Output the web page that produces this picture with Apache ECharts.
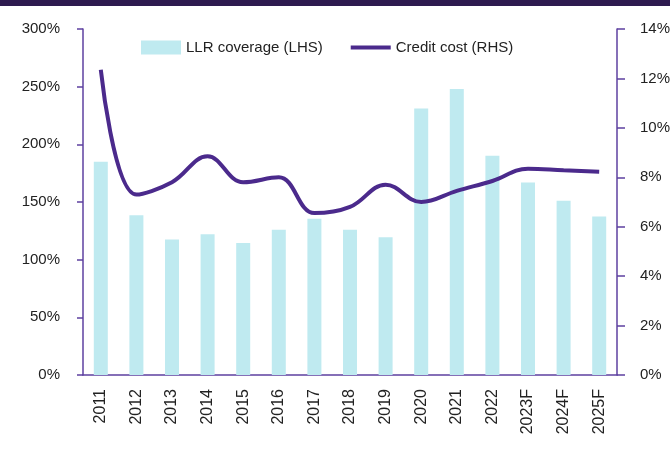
<!DOCTYPE html>
<html><head><meta charset="utf-8">
<script src="https://cdn.jsdelivr.net/npm/echarts@6/dist/echarts.min.js"></script>
<style>html,body{margin:0;padding:0;background:#fff}#c{width:670px;height:452px}</style>
</head><body><div id="c"></div>
<script>
const categories = ['2011','2012','2013','2014','2015','2016','2017','2018','2019','2020','2021','2022','2023F','2024F','2025F'];
const llrCoverage = [185, 138.5, 117.5, 122, 114.5, 126, 135.5, 126, 119.5, 231, 248, 190, 167, 151, 137.5];
const creditCost = [12.35, 7.3, 7.8, 8.85, 7.8, 8.0, 6.55, 6.8, 7.7, 7.0, 7.45, 7.85, 8.35, 8.28, 8.22];
const leftTicks = {min: 0, max: 300, interval: 50};
const rightTicks = {min: 0, max: 14, interval: 2};

const FONT = 'Liberation Sans';
const AX = '#5e40a0';
const LINE = '#4b2a8c';
const chart = echarts.init(document.getElementById('c'), null, {renderer: 'canvas'});
chart.setOption({
  animation: false,
  textStyle: {fontFamily: FONT},
  graphic: [{type: 'rect', left: 0, top: 0, shape: {width: 670, height: 6}, style: {fill: '#2e1a4f'}}],
  legend: {
    left: 136, top: 35, itemGap: 26, itemWidth: 40, itemHeight: 14,
    textStyle: {fontFamily: FONT, fontSize: 15, color: '#222'},
    data: [
      {name: 'LLR coverage (LHS)', icon: 'rect'},
      {name: 'Credit cost (RHS)', itemStyle: {color: 'rgba(0,0,0,0)', borderWidth: 0, opacity: 0},
       lineStyle: {color: LINE, width: 4}}
    ]
  },
  grid: {left: 83, right: 53, top: 29, bottom: 77, outerBoundsMode: 'none', containLabel: false},
  xAxis: {
    type: 'category', data: categories,
    axisLine: {lineStyle: {color: AX, width: 1.5}},
    axisTick: {lineStyle: {color: AX, width: 1.5}, length: 7},
    axisLabel: {rotate: 90, fontSize: 16, color: '#222', margin: 14, fontFamily: FONT}
  },
  yAxis: [{
    type: 'value', min: leftTicks.min, max: leftTicks.max, interval: leftTicks.interval,
    axisLine: {show: true, lineStyle: {color: AX, width: 1.5}},
    axisTick: {show: true, length: 6, lineStyle: {color: AX, width: 1.5}},
    splitLine: {show: false},
    axisLabel: {formatter: '{value}%', fontSize: 15, color: '#222', margin: 23, fontFamily: FONT}
  }, {
    type: 'value', min: rightTicks.min, max: rightTicks.max, interval: rightTicks.interval,
    position: 'right',
    axisLine: {show: true, lineStyle: {color: AX, width: 1.5}},
    axisTick: {show: true, length: 8, lineStyle: {color: AX, width: 1.5}},
    splitLine: {show: false},
    axisLabel: {formatter: '{value}%', fontSize: 15, color: '#222', margin: 23, fontFamily: FONT}
  }],
  series: [{
    name: 'LLR coverage (LHS)', type: 'bar', data: llrCoverage, barWidth: 14,
    itemStyle: {color: '#bfeaf0'}
  }, {
    name: 'Credit cost (RHS)', type: 'line', yAxisIndex: 1, data: creditCost,
    smooth: 0.4, symbol: 'none', lineStyle: {color: LINE, width: 4}, itemStyle: {color: LINE}
  }]
});
</script></body></html>
